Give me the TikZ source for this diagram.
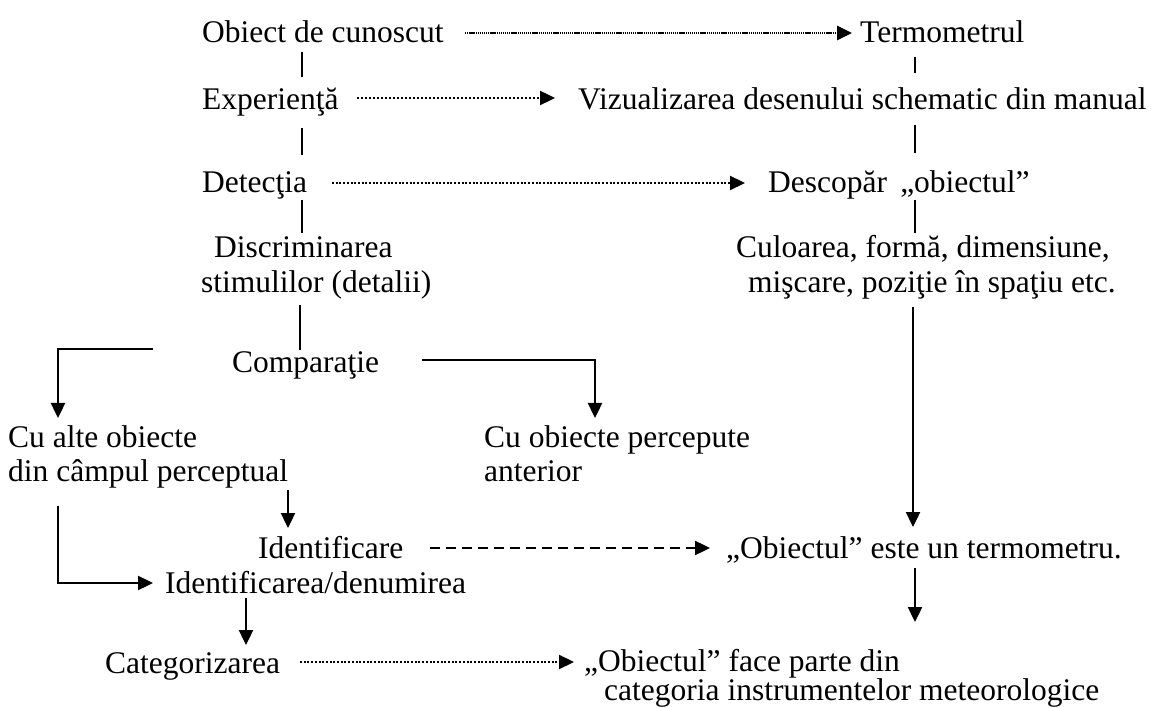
\documentclass[tikz,border=0pt]{standalone}
\usepackage{fontspec}
\setmainfont{Liberation Serif}
\usetikzlibrary{arrows.meta}
\begin{document}
\begin{tikzpicture}[x=1pt,y=-1pt,
  lbl/.style={inner sep=0pt,anchor=base west,font=\fontsize{31.5}{35}\selectfont},
  tip/.style={-{Triangle[length=15pt,width=14pt]}},
  solidline/.style={line width=2.4pt},
  solidarrow/.style={solidline,tip},
  fineline/.style={line width=2.2pt},
  densedots/.style={line width=2.6pt,dash pattern=on 1.3pt off 0.8pt,tip},
  sparsedots/.style={line width=2.4pt,dash pattern=on 2.2pt off 1.8pt,tip},
  smalldots/.style={line width=2.2pt,dash pattern=on 2pt off 1.7pt,tip},
  dasharrow/.style={line width=2.4pt,dash pattern=on 10pt off 6pt,tip}]
\useasboundingbox (0,0) rectangle (1157,708);

% left column
\node[lbl] (obiect) at (202,43) {Obiect de cunoscut};
\node[lbl] (exper) at (202,110) {Experienţă};
\node[lbl] (detect) at (202,193) {Detecţia};
\node[lbl] (discr1) at (214,258) {Discriminarea};
\node[lbl] (discr2) at (201,293) {stimulilor (detalii)};
\node[lbl] (compar) at (232,373) {Comparaţie};
\node[lbl] (alte1) at (8,448) {Cu alte obiecte};
\node[lbl] (alte2) at (8,482) {din câmpul perceptual};
\node[lbl] (anter1) at (484,448) {Cu obiecte percepute};
\node[lbl] (anter2) at (484,482) {anterior};
\node[lbl] (ident) at (258,558) {Identificare};
\node[lbl] (denum) at (165,593) {Identificarea/denumirea};
\node[lbl] (categ) at (105,673) {Categorizarea};

% right column
\node[lbl] (termo) at (860,43) {Termometrul};
\node[lbl] (vizual) at (578,110) {Vizualizarea desenului schematic din manual};
\node[lbl] (descop) at (768,193) {Descopăr \,„obiectul”};
\node[lbl] (culoare1) at (736,258) {Culoarea, formă, dimensiune,};
\node[lbl] (culoare2) at (748,293) {mişcare, poziţie în spaţiu etc.};
\node[lbl] (termom) at (726,558) {„Obiectul” este un termometru.};
\node[lbl] (parte1) at (584,671) {„Obiectul” face parte din};
\node[lbl] (parte2) at (604,700) {categoria instrumentelor meteorologice};

% horizontal links
\draw[densedots] (465,33) coordinate (a1) -- (852,33) coordinate (b1);
\draw[sparsedots] (357,98) coordinate (a2) -- (555,98) coordinate (b2);
\draw[smalldots] (332,183) coordinate (a3) -- (745,183) coordinate (b3);
\draw[dasharrow] (430,548) coordinate (a4) -- (710,548) coordinate (b4);
\draw[smalldots] (300,662) coordinate (a5) -- (574,662) coordinate (b5);

% short vertical ticks, left chain
\draw[fineline] (302,52) -- (302,77);
\draw[fineline] (302,128) -- (302,155);
\draw[fineline] (302,200) -- (302,233);
\draw[fineline] (300,305) -- (300,350);

% short vertical ticks, right chain
\draw[fineline] (915,57) -- (915,73);
\draw[fineline] (915,125) -- (915,153);
\draw[fineline] (915,200) -- (915,233);

% branches from the comparison
\draw[solidarrow] (153,349) -- (58,349) -- (58,418);
\draw[solidarrow] (422,360) -- (595,360) -- (595,418);

% remaining arrows
\draw[solidarrow] (913,307) -- (913,527);
\draw[solidarrow] (915,568) -- (915,622);
\draw[solidarrow] (288,490) -- (288,528);
\draw[solidarrow] (58,506) -- (58,583) -- (153,583);
\draw[solidarrow] (246,598) -- (246,645);
\end{tikzpicture}
\end{document}
